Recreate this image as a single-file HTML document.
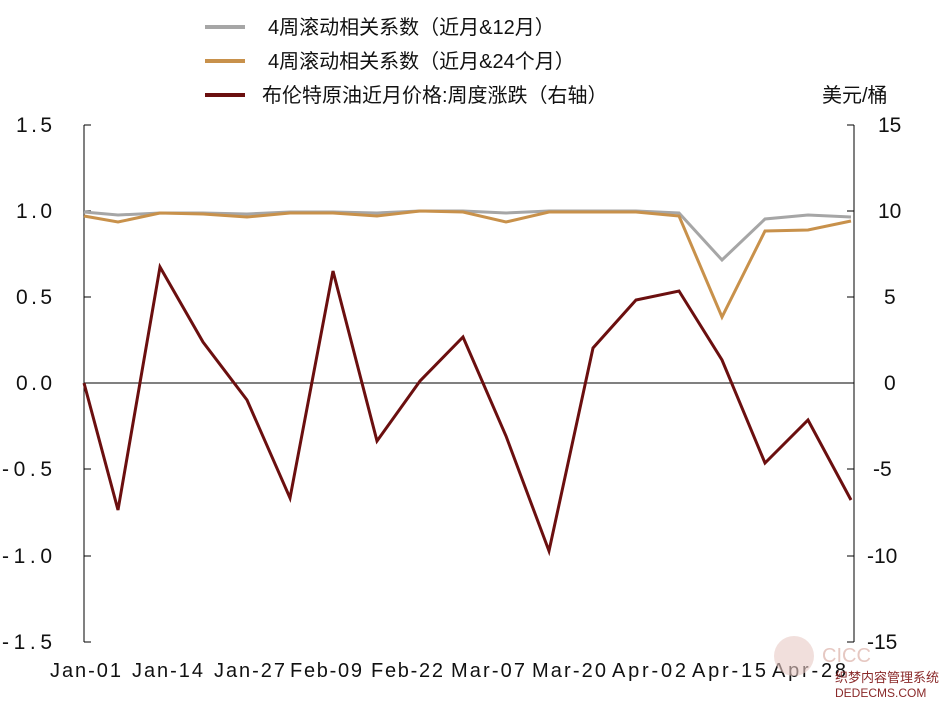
<!DOCTYPE html>
<html><head><meta charset="utf-8"><style>
body{margin:0;background:#fff;}
svg text{font-family:"Liberation Sans","Noto Sans CJK SC",sans-serif;fill:#111;}
</style></head><body>
<svg width="943" height="703" xmlns="http://www.w3.org/2000/svg">
<rect width="943" height="703" fill="#fff"/>
<line x1="84" y1="125" x2="84" y2="642" stroke="#000" stroke-width="1"/>
<line x1="854" y1="125" x2="854" y2="642" stroke="#000" stroke-width="1"/>
<line x1="84" y1="383" x2="854" y2="383" stroke="#000" stroke-width="1"/>
<g stroke="#000" stroke-width="1">
<line x1="84" y1="125" x2="91" y2="125"/><line x1="84" y1="211" x2="91" y2="211"/><line x1="84" y1="297" x2="91" y2="297"/><line x1="84" y1="469" x2="91" y2="469"/><line x1="84" y1="556" x2="91" y2="556"/><line x1="84" y1="642" x2="91" y2="642"/>
<line x1="847" y1="125" x2="854" y2="125"/><line x1="847" y1="211" x2="854" y2="211"/><line x1="847" y1="297" x2="854" y2="297"/><line x1="847" y1="469" x2="854" y2="469"/><line x1="847" y1="556" x2="854" y2="556"/><line x1="847" y1="642" x2="854" y2="642"/>
</g>
<g font-size="21" text-anchor="end">
<text x="52" y="132" textLength="36">1.5</text><text x="52" y="218" textLength="36">1.0</text><text x="52" y="304" textLength="36">0.5</text><text x="52" y="390" textLength="36">0.0</text><text x="52" y="476" textLength="50">-0.5</text><text x="52" y="563" textLength="50">-1.0</text><text x="52" y="649" textLength="50">-1.5</text>
</g>
<g font-size="21" text-anchor="start">
<text x="878" y="132">15</text><text x="878" y="218">10</text><text x="884" y="304">5</text><text x="884" y="390">0</text><text x="873" y="476">-5</text><text x="867" y="563">-10</text><text x="867" y="649">-15</text>
</g>
<g font-size="20">
<text x="50" y="677" textLength="71">Jan-01</text><text x="132" y="677" textLength="71">Jan-14</text><text x="214" y="677" textLength="71">Jan-27</text><text x="290" y="677" textLength="72">Feb-09</text><text x="371" y="677" textLength="72">Feb-22</text><text x="451" y="677" textLength="74">Mar-07</text><text x="532" y="677" textLength="74">Mar-20</text><text x="612" y="677" textLength="74">Apr-02</text><text x="692" y="677" textLength="74">Apr-15</text><text x="772" y="677" textLength="74">Apr-28</text>
</g>
<polyline fill="none" stroke="#a6a6a6" stroke-width="3" points="84,212 118,215 160,213 203,213 247,214 290,212 333,212 377,213 420,211 463,211 506,213 549,211 593,211 636,211 679,213 722,260 765,219 808,215 851,217"/>
<polyline fill="none" stroke="#c8914b" stroke-width="3" points="84,216 118,222 160,213 203,214 247,217 290,213 333,213 377,216 420,211 463,212 506,222 549,212 593,212 636,212 679,216 722,317 765,231 808,230 851,221"/>
<polyline fill="none" stroke="#6b0f0f" stroke-width="3" points="84,383 118,510 160,267 203,342 247,400 290,498 333,271 377,441 420,381 463,337 506,436 549,551 593,348 636,300 679,291 722,360 765,463 808,420 851,500"/>
<line x1="205" y1="27" x2="245" y2="27" stroke="#a6a6a6" stroke-width="4"/>
<line x1="205" y1="61" x2="245" y2="61" stroke="#c8914b" stroke-width="4"/>
<line x1="205" y1="95" x2="245" y2="95" stroke="#6b0f0f" stroke-width="4"/>
<g font-size="20">
<text x="268" y="34">4周滚动相关系数（近月&amp;12月）</text>
<text x="268" y="68">4周滚动相关系数（近月&amp;24个月）</text>
<text x="262" y="102">布伦特原油近月价格:周度涨跌（右轴）</text>
<text x="822" y="102">美元/桶</text>
</g>
<circle cx="794" cy="656" r="20" fill="#e8c9c4" opacity="0.6"/>
<text x="822" y="662" font-size="20" style="fill:#e6c8c2">CICC</text>
<text x="835" y="682" font-size="13" style="fill:#8a2a2a">织梦内容管理系统</text>
<text x="835" y="697" font-size="12" style="fill:#8a2a2a">DEDECMS.COM</text>
</svg>
</body></html>
